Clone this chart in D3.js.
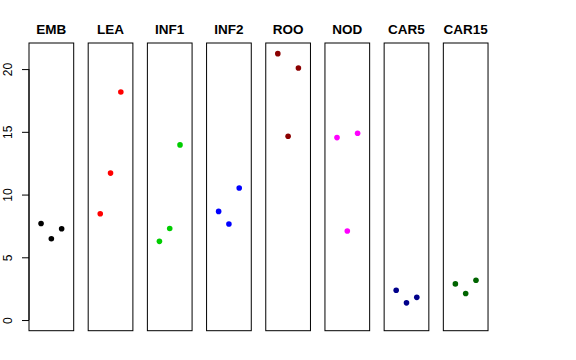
<!DOCTYPE html>
<html>
<head>
<meta charset="utf-8">
<script src="https://cdn.jsdelivr.net/npm/d3@7/dist/d3.min.js"></script>
<style>
  body { margin: 0; background: #fff; }
  svg { display: block; }
</style>
</head>
<body>
<script>
const width = 576;
const height = 360;

// tissues, one panel each
const categories = ["EMB", "LEA", "INF1", "INF2", "ROO", "NOD", "CAR5", "CAR15"];
const colors = ["#000000", "#FF0000", "#00CD00", "#0000FF", "#8B0000", "#FF00FF", "#00008B", "#006400"];
// three replicates per tissue, left / middle / right (jittered)
const values = [
  [7.70, 6.48, 7.28],
  [8.47, 11.71, 18.18],
  [6.27, 7.30, 13.96],
  [8.66, 7.65, 10.52],
  [21.23, 14.65, 20.09],
  [14.54, 7.10, 14.89],
  [2.37, 1.37, 1.81],
  [2.88, 2.11, 3.17]
];
const jitter = [-1, 0, 1];
const yTicks = [0, 5, 10, 15, 20];

const panelLeft = 29;
const panelStep = 59.19;
const panelW = 44.7;
const plotTop = 43;
const plotBottom = 330.7;

const svg = d3.select("body").append("svg")
  .attr("width", width)
  .attr("height", height);

// R style ylim: c(0, max) extended by 4%
const yMax = d3.max(values.flat());
const pad = yMax * 0.04;
const y = d3.scaleLinear().domain([-pad, yMax + pad]).range([plotBottom, plotTop]);
const x = d3.scaleLinear().domain([-2.17, 2.17]).range([0, panelW]);

categories.forEach((cat, i) => {
  const g = svg.append("g")
    .attr("transform", `translate(${panelLeft + i * panelStep},0)`);

  g.append("rect")
    .attr("x", 0).attr("y", plotTop)
    .attr("width", panelW).attr("height", plotBottom - plotTop)
    .attr("fill", "none")
    .attr("stroke", "#000")
    .attr("stroke-width", 1);

  g.append("text")
    .attr("x", panelW / 2)
    .attr("y", 34)
    .attr("text-anchor", "middle")
    .attr("font-family", "Liberation Sans, Arial, sans-serif")
    .attr("font-weight", "bold")
    .attr("font-size", 13.5)
    .text(cat);

  g.selectAll("circle")
    .data(values[i])
    .join("circle")
    .attr("cx", (d, j) => x(jitter[j]))
    .attr("cy", d => y(d))
    .attr("r", 2.8)
    .attr("fill", colors[i]);
});

// y axis on the first panel
const axis = d3.axisLeft(y)
  .tickValues(yTicks)
  .tickSize(7)
  .tickFormat(d3.format("d"));

const ax = svg.append("g")
  .attr("transform", `translate(${panelLeft},0)`)
  .call(axis);

ax.select(".domain")
  .attr("d", `M0,${y(0)}V${y(20)}`)
  .attr("stroke", "#000");
ax.selectAll(".tick line").attr("stroke", "#000");
ax.selectAll(".tick text")
  .attr("font-family", "Liberation Sans, Arial, sans-serif")
  .attr("font-size", 12)
  .attr("fill", "#000")
  .attr("transform", "rotate(-90)")
  .attr("x", 0)
  .attr("y", -17)
  .attr("dy", 0)
  .attr("text-anchor", "middle");
</script>
</body>
</html>
